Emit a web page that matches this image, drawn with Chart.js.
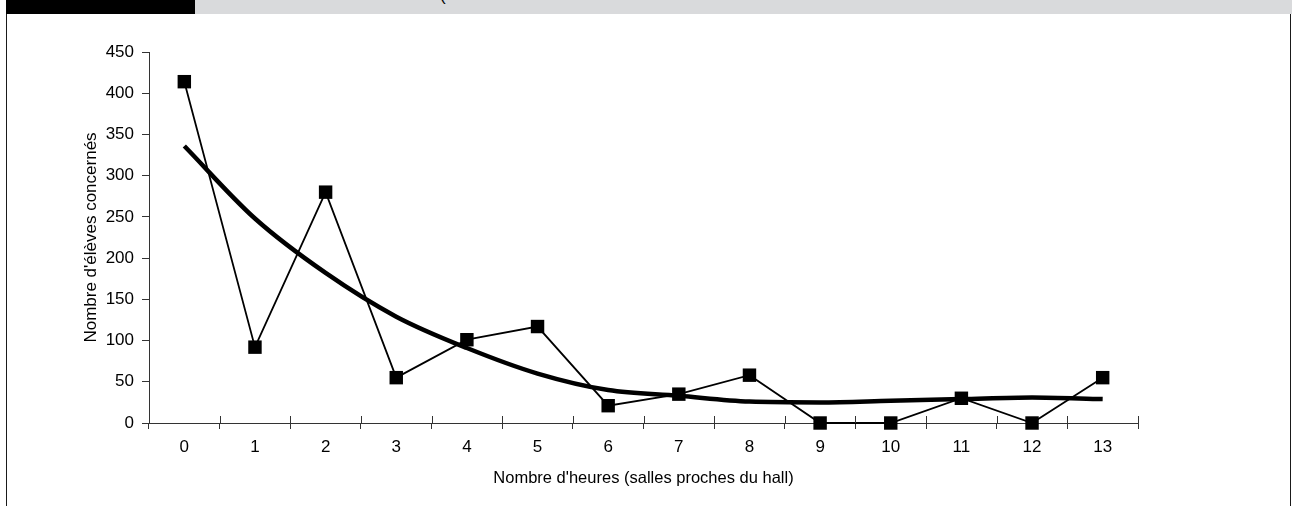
<!DOCTYPE html>
<html lang="fr">
<head>
<meta charset="utf-8">
<title>Nombre d'élèves concernés</title>
<script src="https://cdn.jsdelivr.net/npm/chart.js@4.4.1/dist/chart.umd.min.js"></script>
<style>
  html, body { margin: 0; padding: 0; background: #fff; }
  body { width: 1292px; height: 506px; position: relative; overflow: hidden; }
  #frame { position: absolute; left: 6px; top: 0; width: 1283px; height: 506px;
           border-left: 1px solid #1a1a1a; border-right: 1px solid #1a1a1a; box-sizing: content-box; }
  #bandDark { position: absolute; left: 6px; top: 0; width: 189px; height: 14px; background: #000; z-index: 2; }
  #bandLight { position: absolute; left: 195px; top: 0; width: 1097px; height: 14px; background: #d9dadc;
               z-index: 2; overflow: hidden; }
  #bandLight span { position: absolute; left: 245px; top: -14px; font: 17px "Liberation Sans", Arial, sans-serif;
                    color: #000; }
  #chart { position: absolute; left: 0; top: 0; }
</style>
</head>
<body>
<div id="frame"></div>
<div id="bandDark"></div>
<div id="bandLight"><span>(</span></div>
<canvas id="chart" width="1292" height="506"></canvas>
<script>
// Nombre d'heures (salles proches du hall)
const hours = ['0', '1', '2', '3', '4', '5', '6', '7', '8', '9', '10', '11', '12', '13'];
// Nombre d'élèves concernés
const students = [414, 92, 280, 55, 101, 117, 21, 35, 58, 0, 0, 30, 0, 55];
// Courbe de tendance
const trend = [336, 248, 182, 129, 91, 60, 40, 33, 26, 25, 27, 29, 31, 29];
// Graduations de l'axe vertical
const yMin = 0, yMax = 450, yStep = 50;

const FONT = '"Liberation Sans", Arial, sans-serif';
const AXIS = '#333333';

// Tick marks on the category axis cross the axis line (short part above it too)
const crossTicks = {
  id: 'crossTicks',
  afterDraw(chart) {
    const x = chart.scales.x;
    const ctx = chart.ctx;
    const n = x.ticks.length;
    const step = (x.right - x.left) / n;
    ctx.save();
    ctx.strokeStyle = AXIS;
    ctx.lineWidth = 1;
    ctx.beginPath();
    for (let k = 0; k <= n; k++) {
      const px = Math.round(x.left + k * step) + 0.5;
      ctx.moveTo(px, x.top - 7);
      ctx.lineTo(px, x.top);
    }
    ctx.stroke();
    ctx.restore();
  }
};

new Chart(document.getElementById('chart'), {
  type: 'line',
  data: {
    labels: hours,
    datasets: [
      {
        data: students,
        borderColor: '#000',
        borderWidth: 1.8,
        pointStyle: 'rect',
        pointRadius: 9.5,
        pointBackgroundColor: '#000',
        pointBorderColor: '#000',
        pointBorderWidth: 0,
        tension: 0,
        clip: false,
        order: 1
      },
      {
        data: trend,
        borderColor: '#000',
        borderWidth: 4.5,
        pointRadius: 0,
        cubicInterpolationMode: 'monotone',
        clip: false,
        order: 2
      }
    ]
  },
  options: {
    responsive: false,
    animation: false,
    devicePixelRatio: 1,
    layout: { padding: { top: 52, right: 154, bottom: 0, left: 0 } },
    plugins: { legend: { display: false }, tooltip: { enabled: false }, title: { display: false } },
    scales: {
      x: {
        type: 'category',
        offset: true,
        grid: { display: true, offset: true, drawOnChartArea: false, drawTicks: true,
                tickLength: 6, color: AXIS, lineWidth: 1 },
        border: { display: true, color: AXIS, width: 1 },
        ticks: { color: '#000', font: { family: FONT, size: 17 }, padding: 8.5, maxRotation: 0, autoSkip: false },
        title: { display: true, text: "Nombre d'heures (salles proches du hall)", color: '#000',
                 font: { family: FONT, size: 16.5 }, padding: { top: 0, bottom: 17.5 } },
        afterFit(scale) { scale.height = 83; }
      },
      y: {
        min: yMin,
        max: yMax,
        grid: { display: true, drawOnChartArea: false, drawTicks: true, tickLength: 7, color: AXIS, lineWidth: 1 },
        border: { display: true, color: AXIS, width: 1 },
        ticks: { stepSize: yStep, color: '#000', font: { family: FONT, size: 17 }, padding: 8 },
        title: { display: true, text: "Nombre d'élèves concernés", color: '#000',
                 font: { family: FONT, size: 17 }, padding: { top: 81, bottom: 0 } },
        afterFit(scale) { scale.width = 149; }
      }
    }
  },
  plugins: [crossTicks]
});
</script>
</body>
</html>
